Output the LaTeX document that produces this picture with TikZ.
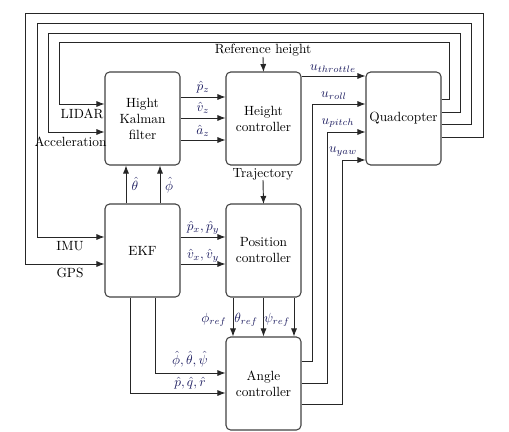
\documentclass[tikz,border=0pt]{standalone}
\usetikzlibrary{arrows.meta}
\definecolor{mathc}{RGB}{28,28,95}
\begin{document}
\begin{tikzpicture}[x=0.75pt,y=-0.75pt,
  blk/.style={draw=black!75,line width=0.8pt,rounded corners=3.5pt,minimum width=56.25pt,minimum height=69.75pt,align=center,inner sep=0pt},
  ln/.style={line width=0.7pt,draw=black!85},
  arr/.style={ln,-{Latex[length=6pt,width=4.6pt]}},
  lbl/.style={inner sep=0pt,anchor=base},
  mlbl/.style={inner sep=0pt,anchor=base,text=mathc}]
\useasboundingbox (0,0) rectangle (509,431);
% blocks
\node[blk] (hkf) at (142.5,118.5) {Hight\\Kalman\\filter};
\node[blk] (hc) at (263.5,118.5) {Height\\controller};
\node[blk] (quad) at (403.5,118.5) {Quadcopter};
\node[blk] (ekf) at (142.5,250.5) {EKF};
\node[blk] (pc) at (263.5,250.5) {Position\\controller};
\node[blk] (ac) at (263.5,383.5) {Angle\\controller};
% feedback loops
\draw[arr] (quad.east|-{0,99}) -- (449,99) -- (449,42) -- (59,42) -- (59,104) -- (hkf.west|-{0,104});
\draw[arr] (quad.east|-{0,112}) -- (460,112) -- (460,33) -- (48,33) -- (48,132) -- (hkf.west|-{0,132});
\draw[arr] (quad.east|-{0,124}) -- (471,124) -- (471,23) -- (37,23) -- (37,237) -- (ekf.west|-{0,237});
\draw[arr] (quad.east|-{0,137}) -- (483,137) -- (483,13) -- (25,13) -- (25,264) -- (ekf.west|-{0,264});
\node[lbl] (lidar) at (82,118) {LIDAR};
\node[lbl] (acc) at (70.5,146) {Acceleration};
\node[lbl] (imu) at (70,250) {IMU};
\node[lbl] (gps) at (70,277) {GPS};
% references
\node[lbl] (refh) at (263,54) {Reference height};
\coordinate (refa) at (263,57);
\draw[arr] (refa) -- (hc.north|-{0,72});
\node[lbl] (traj) at (263,177) {Trajectory};
\coordinate (traja) at (263,180);
\draw[arr] (traja) -- (pc.north|-{0,204});
% HKF -> height controller
\draw[arr] (hkf.east|-{0,97}) -- (hc.west|-{0,97});
\draw[arr] (hkf.east|-{0,118}) -- (hc.west|-{0,118});
\draw[arr] (hkf.east|-{0,140}) -- (hc.west|-{0,140});
\node[mlbl] (pz) at (203,91) {$\hat{p}_z$};
\node[mlbl] (vz) at (203,112) {$\hat{v}_z$};
\node[mlbl] (az) at (203,134) {$\hat{a}_z$};
% EKF -> HKF
\draw[arr] (ekf.north-|{126,0}) -- (hkf.south-|{126,0});
\draw[arr] (ekf.north-|{160,0}) -- (hkf.south-|{160,0});
\node[mlbl] (th) at (135,190) {$\hat{\theta}$};
\node[mlbl] (ph) at (169,190) {$\hat{\phi}$};
% EKF -> position controller
\draw[arr] (ekf.east|-{0,237}) -- (pc.west|-{0,237});
\draw[arr] (ekf.east|-{0,264}) -- (pc.west|-{0,264});
\node[mlbl] (pxy) at (203,230) {$\hat{p}_x,\hat{p}_y$};
\node[mlbl] (vxy) at (203,258) {$\hat{v}_x,\hat{v}_y$};
% EKF -> angle controller
\draw[arr] (ekf.south-|{155,0}) -- (155,373) -- (ac.west|-{0,373});
\draw[arr] (ekf.south-|{130,0}) -- (130,393) -- (ac.west|-{0,393});
\node[mlbl] (ang) at (190,364) {$\hat{\phi},\hat{\theta},\hat{\psi}$};
\node[mlbl] (rates) at (190,386) {$\hat{p},\hat{q},\hat{r}$};
% position -> angle
\draw[arr] (pc.south-|{233,0}) -- (ac.north-|{233,0});
\draw[arr] (pc.south-|{263.5,0}) -- (ac.north-|{263.5,0});
\draw[arr] (pc.south-|{294,0}) -- (ac.north-|{294,0});
\node[mlbl] (phr) at (214,322) {$\phi_{ref}$};
\node[mlbl] (thr) at (246,322) {$\theta_{ref}$};
\node[mlbl] (psr) at (277,322) {$\psi_{ref}$};
% controls to quadcopter
\draw[arr] (hc.east|-{0,76}) -- (quad.west|-{0,76});
\draw[arr] (ac.east|-{0,361}) -- (312,361) -- (312,104) -- (quad.west|-{0,104});
\draw[arr] (ac.east|-{0,383}) -- (327,383) -- (327,132) -- (quad.west|-{0,132});
\draw[arr] (ac.east|-{0,404}) -- (342,404) -- (342,160) -- (quad.west|-{0,160});
\node[mlbl] (uth) at (333,71) {$u_{throttle}$};
\node[mlbl] (uro) at (334,98) {$u_{roll}$};
\node[mlbl] (upi) at (338,124) {$u_{pitch}$};
\node[mlbl] (uya) at (343,152) {$u_{yaw}$};
\end{tikzpicture}
\end{document}
